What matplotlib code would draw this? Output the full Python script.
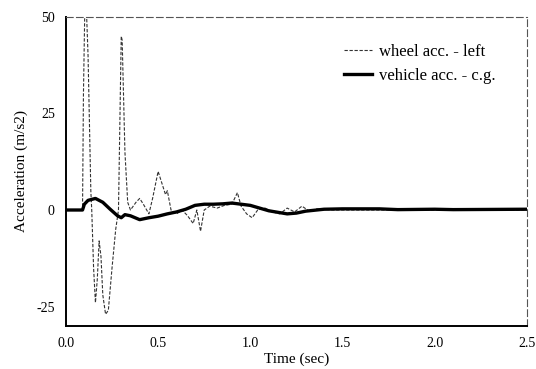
import matplotlib
matplotlib.use("Agg")
import matplotlib.pyplot as plt

plt.rcParams['font.family'] = ['Liberation Serif', 'DejaVu Serif']
plt.rcParams['axes.unicode_minus'] = False

# wheel acceleration, left wheel (dashed)
wheel_t = [0.00, 0.09, 0.095, 0.105, 0.12, 0.135, 0.14, 0.15, 0.16, 0.17, 0.18, 0.19,
           0.20, 0.215, 0.23, 0.25, 0.27, 0.285, 0.30, 0.305, 0.32, 0.335, 0.35, 0.38,
           0.40, 0.42, 0.45, 0.47, 0.50, 0.52, 0.54, 0.55, 0.57, 0.60, 0.63, 0.66,
           0.69, 0.71, 0.73, 0.75, 0.78, 0.82, 0.86, 0.90, 0.93, 0.95, 0.98, 1.01,
           1.04, 1.08, 1.12, 1.16, 1.20, 1.24, 1.28, 1.32, 1.36, 1.45, 2.50]
wheel_acc = [0.0, 0.0, 30.0, 60.0, 40.0, 5.0, 0.0, -15.0, -24.0, -18.0, -8.0, -12.0,
             -22.0, -27.0, -26.0, -15.0, -5.0, 0.0, 45.0, 44.0, 15.0, 2.0, 0.0, 2.0,
             3.0, 1.5, -1.0, 3.0, 10.0, 7.0, 4.0, 5.0, 0.0, -1.0, 0.0, -1.5,
             -3.5, 0.0, -5.5, 0.0, 1.0, 0.5, 1.2, 1.5, 4.5, 1.0, -1.0, -2.0,
             0.0, 0.5, -0.5, -1.0, 0.5, -0.5, 1.0, -0.3, 0.3, 0.0, 0.0]

# vehicle acceleration at the c.g. (thick solid)
veh_t = [0.00, 0.09, 0.10, 0.12, 0.16, 0.20, 0.24, 0.28, 0.30, 0.32, 0.35, 0.40,
         0.45, 0.50, 0.55, 0.60, 0.65, 0.70, 0.75, 0.80, 0.85, 0.90, 0.95, 1.00,
         1.05, 1.10, 1.15, 1.20, 1.25, 1.30, 1.40, 1.50, 1.70, 1.80, 2.00, 2.10, 2.50]
veh_acc = [0.0, 0.0, 1.5, 2.5, 3.0, 2.0, 0.2, -1.5, -2.0, -1.2, -1.5, -2.5,
           -2.0, -1.6, -1.0, -0.5, 0.2, 1.2, 1.5, 1.5, 1.6, 1.8, 1.5, 1.2,
           0.5, -0.2, -0.6, -1.0, -0.8, -0.3, 0.2, 0.3, 0.3, 0.1, 0.2, 0.1, 0.2]

xticks = [0.0, 0.5, 1.0, 1.5, 2.0, 2.5]
yticks = [-25, 0, 25, 50]

fig = plt.figure(figsize=(5.36, 3.69), dpi=100)
ax = fig.add_axes([0.123, 0.117, 0.860, 0.837])

ax.plot(wheel_t, wheel_acc, color='#333333', lw=0.8, linestyle=(0, (3, 1.5)),
        label='wheel acc. - left')
ax.plot(veh_t, veh_acc, color='black', lw=2.4, label='vehicle acc. - c.g.')

ax.set_xlim(0, 2.5)
ax.set_ylim(-30, 50)
ax.set_xticks(xticks)
ax.set_xticklabels(['%.1f' % v for v in xticks])
ax.set_yticks(yticks)
ax.tick_params(length=0, labelsize=10, pad=8)

ax.spines['left'].set_linewidth(1.4)
ax.spines['bottom'].set_linewidth(1.4)
for s in ['top', 'right']:
    ax.spines[s].set_linestyle((0, (6, 3)))
    ax.spines[s].set_linewidth(0.8)
    ax.spines[s].set_color('#555555')

ax.set_xlabel('Time (sec)', fontsize=11, labelpad=2)
ax.set_ylabel('Acceleration (m/s2)', fontsize=11, labelpad=6)

ax.legend(loc='upper right', frameon=False, fontsize=12, handlelength=1.7,
          handletextpad=0.4, labelspacing=0.45, bbox_to_anchor=(0.965, 0.96))

fig.savefig('out.png', dpi=100)
